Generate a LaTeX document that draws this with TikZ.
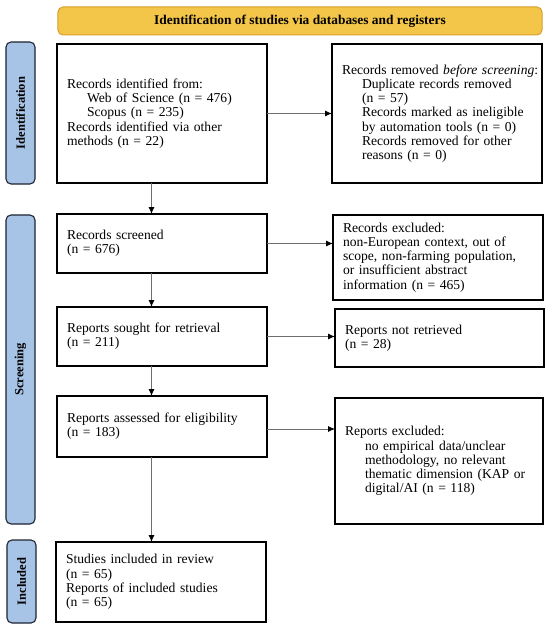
\documentclass[tikz,border=0pt]{standalone}
\usepackage{fontspec}
\setmainfont{Liberation Serif}
\usetikzlibrary{arrows.meta}
\definecolor{bannerfill}{RGB}{243,197,72}
\definecolor{bannerdraw}{RGB}{214,160,40}
\definecolor{sidefill}{RGB}{167,195,229}
\definecolor{sidedraw}{RGB}{30,38,52}
\definecolor{arrowgray}{RGB}{110,110,110}
\begin{document}
\begin{tikzpicture}[x=1bp,y=-1bp,
  every node/.style={inner sep=0pt,outer sep=0pt},
  box/.style={draw=black,line width=1.1bp,fill=white,minimum width=210bp,
    text width=190bp,align=left,inner xsep=10bp,
    font=\fontsize{13.6bp}{14.2bp}\selectfont},
  side/.style={draw=sidedraw,line width=1.1bp,fill=sidefill,rounded corners=5bp,
    minimum height=29bp,rotate=90,font=\bfseries\fontsize{12.5bp}{13bp}\selectfont},
  flow/.style={draw=arrowgray,line width=0.8bp,-{Latex[color=black,length=7bp,width=6bp]}}]
\useasboundingbox (0,0) rectangle (550,630);
\fill[white] (0,0) rectangle (550,630);
\newcommand{\ind}{\hspace*{20bp}}
% banner
\node[draw=bannerdraw,line width=1bp,fill=bannerfill,rounded corners=5bp,
  minimum width=484bp,minimum height=28bp,font=\bfseries\fontsize{13.4bp}{14bp}\selectfont]
  (banner) at (300,21) {Identification of studies via databases and registers};
% side labels
\node[side,minimum width=142bp] (idl) at (20.5,113) {Identification};
\node[side,minimum width=309bp] (scl) at (20.5,369.5) {Screening};
\node[side,minimum width=83bp] (inl) at (21.5,581.5) {Included};
% left column
\node[box,minimum height=139bp] (b1) at (162,113.5) {Records identified from:\\
\ind Web of Science (n = 476)\\
\ind Scopus (n = 235)\\
Records identified via other\\
methods (n = 22)};
\node[box,minimum height=59bp] (scr) at (162,243.5) {Records screened\\(n = 676)};
\node[box,minimum height=59bp] (sou) at (162,336.5) {Reports sought for retrieval\\(n = 211)};
\node[box,minimum height=61bp] (ass) at (162,426.5) {Reports assessed for eligibility\\(n = 183)};
\node[box,minimum height=80bp] (inc) at (161,582) {Studies included in review\\(n = 65)\\
Reports of included studies\\(n = 65)};
% right column
\node[box,minimum height=139bp] (rem) at (437,113.5) {\hbox to 190bp{Records removed \emph{before screening}:\hss}\\
\ind Duplicate records removed\\
\ind (n = 57)\\
\ind Records marked as ineligible\\
\ind by automation tools (n = 0)\\
\ind Records removed for other\\
\ind reasons (n = 0)};
\node[box,minimum height=85bp] (exc) at (438,257.5) {Records excluded:\\
non-European context, out of\\
scope, non-farming population,\\
or insufficient abstract\\
information (n = 465)};
\node[box,minimum width=209bp,text width=189bp,minimum height=58bp] (nre) at (439.5,338) {Reports not retrieved\\(n = 28)};
\node[box,minimum width=208bp,text width=188bp,minimum height=126bp] (rex) at (439,461) {Reports excluded:\\
\ind no empirical data/unclear\\
\ind methodology, no relevant\\
\ind thematic dimension (KAP or\\
\ind digital/AI (n = 118)};
% connectors
\coordinate (col) at (151.5,0);
\draw[flow] (b1.south -| col) -- (scr.north -| col);
\draw[flow] (scr.south -| col) -- (sou.north -| col);
\draw[flow] (sou.south -| col) -- (ass.north -| col);
\draw[flow] (ass.south -| col) -- (inc.north -| col);
\draw[flow] (b1.east) -- (b1.east -| rem.west);
\draw[flow] (scr.east) -- (scr.east -| exc.west);
\draw[flow] (sou.east) -- (sou.east -| nre.west);
\draw[flow] ([yshift=-2.5bp]ass.east) -- ([yshift=-2.5bp]ass.east -| rex.west);
\end{tikzpicture}
\end{document}
